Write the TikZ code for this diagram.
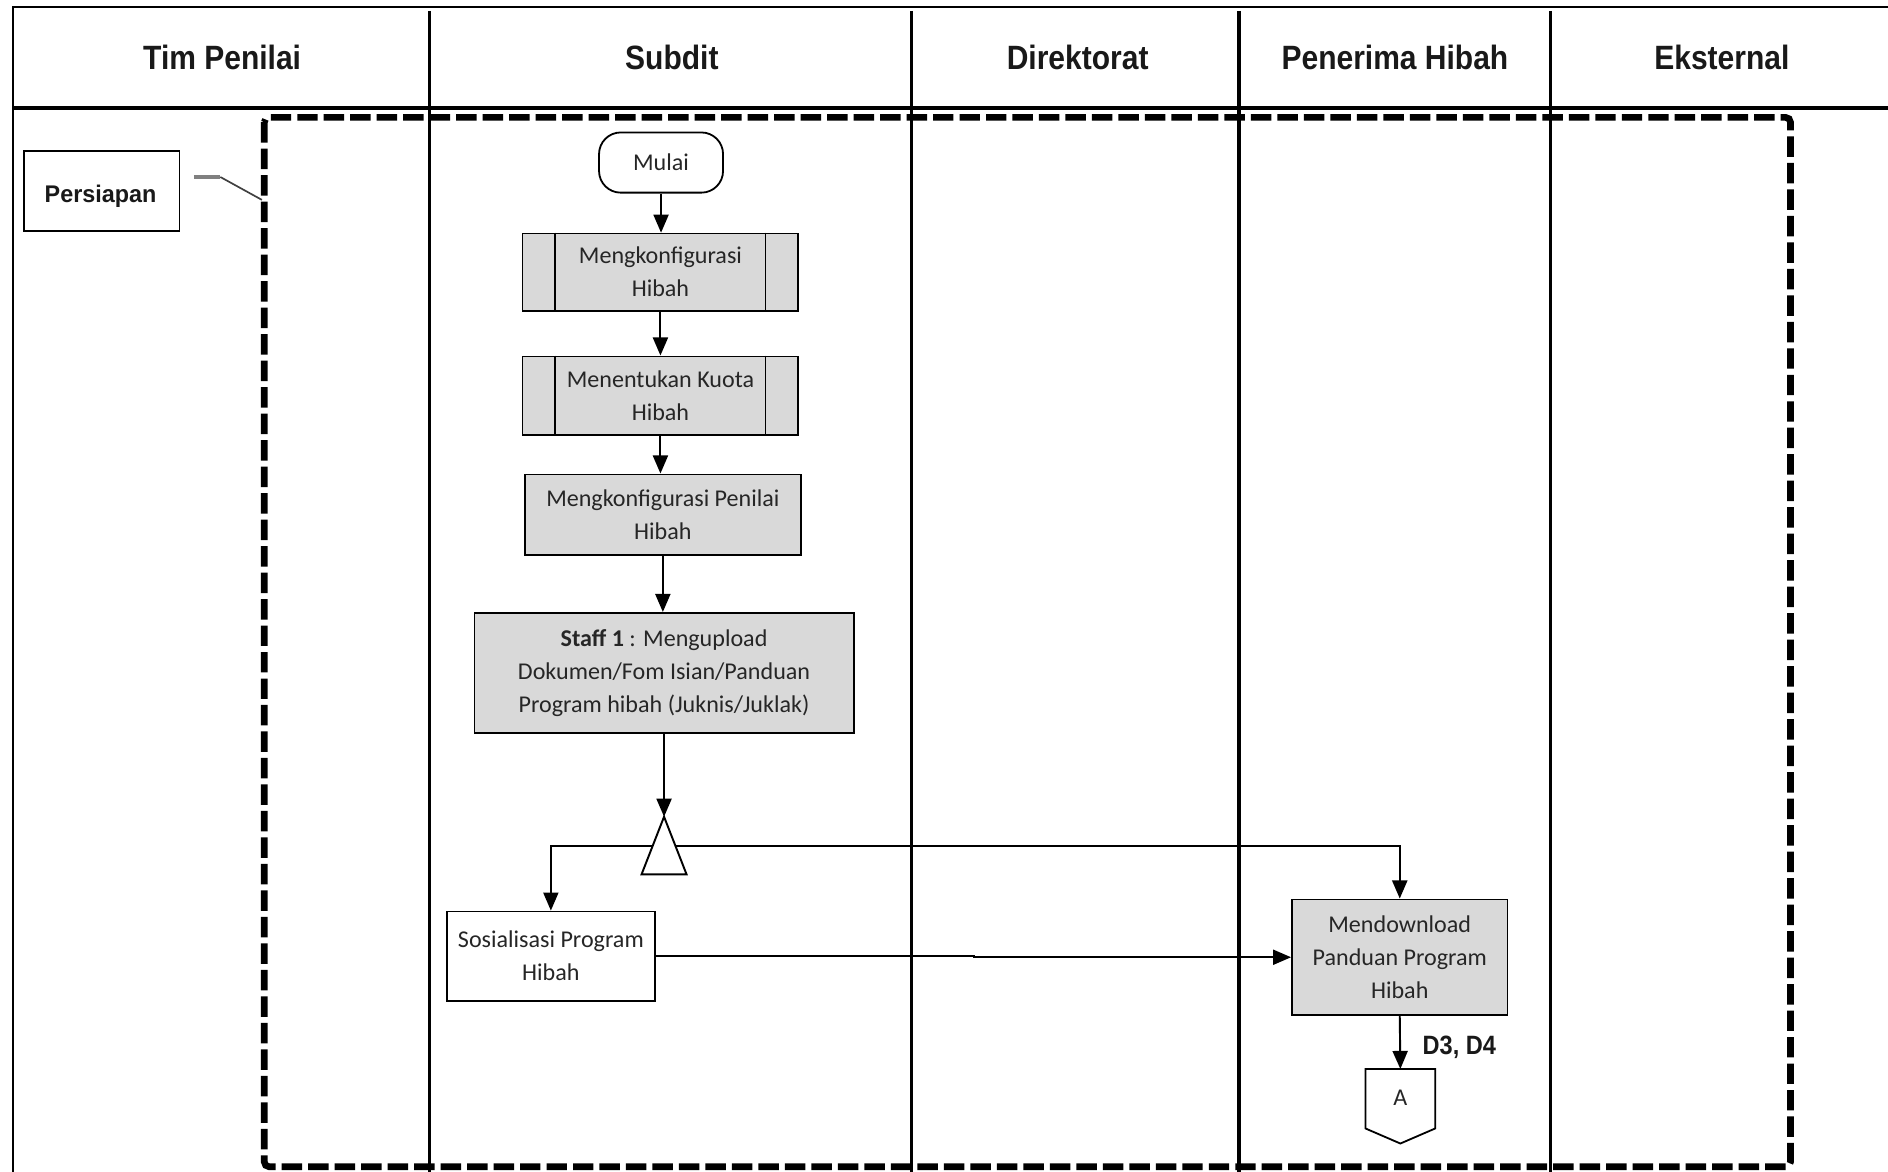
\documentclass[tikz,border=0pt]{standalone}
\usepackage{fontspec}
\setmainfont{Carlito}
\newfontfamily\headfont[FakeStretch=0.89]{Liberation Sans}
\newfontfamily\tagfont[FakeStretch=0.97]{Liberation Sans}
\usetikzlibrary{arrows.meta,calc}
\definecolor{procgray}{HTML}{D9D9D9}

\begin{document}
\begin{tikzpicture}[x=1pt,y=-1pt,
  boxtext/.style={font=\fontsize{20}{27.5}\selectfont, text=black!85, align=center, inner sep=0pt},
  proc/.style={boxtext, draw, line width=1.5pt, fill=procgray},
  plainbox/.style={boxtext, draw, line width=1.5pt, fill=white},
  headlabel/.style={font=\headfont\bfseries\fontsize{28}{30}\selectfont, anchor=base, text=black!90},
  arr/.style={line width=1.6pt, -{Triangle[length=15pt,width=12.5pt]}},
  lane/.style={line width=2.6pt},
  frameline/.style={line width=1.8pt},
  groupbox/.style={line width=5.5pt, dash pattern=on 17pt off 5pt, rounded corners=4pt}
]
\useasboundingbox (0,0) rectangle (1568,973);

% outer frame and header rule
\draw[frameline] (11,973) -- (11,6) -- (1568,6);
\draw[line width=3.3pt] (11,90) -- (1568,90);

% swimlane separators
\foreach \lx in {357,757,1029,1288}
  \draw[lane] (\lx,9) -- (\lx,973);

% lane titles
\node[headlabel] (hTim) at (184.5,57.6) {Tim Penilai};
\node[headlabel] (hSub) at (558,57.6) {Subdit};
\node[headlabel] (hDir) at (895,57.6) {Direktorat};
\node[headlabel] (hPen) at (1158.5,57.6) {Penerima Hibah};
\node[headlabel] (hEks) at (1430,57.6) {Eksternal};

% phase group
\draw[groupbox] (219.5,97.5) rectangle (1487,969);

% phase label with its callout
\node[draw, line width=1.5pt, minimum width=129pt, minimum height=66.5pt, inner sep=0pt] (persiapan) at (84.5,158.75) {};
\node[font=\tagfont\bfseries\fontsize{20}{22}\selectfont, text=black!90, anchor=base] (persiapantext) at (83.5,168) {Persiapan};
\coordinate (callA) at (161,147);
\coordinate (callB) at (183,147);
\coordinate (callC) at (217.5,166);
\draw[line width=2.6pt, black!50] (callA) -- (callB);
\draw[line width=1.4pt, black!75] (callB) -- (callC);

% start terminal
\node[boxtext, draw, line width=1.5pt, rounded corners=18pt, minimum width=103pt, minimum height=50pt] (mulai) at (549,135) {Mulai};

% predefined processes
\node[proc, minimum width=229pt, minimum height=64pt] (b1) at (548.5,226) {Mengkonfigurasi\\Hibah};
\draw[line width=1.5pt] ([xshift=28pt]b1.north west) -- ([xshift=28pt]b1.south west)
                        ([xshift=-28pt]b1.north east) -- ([xshift=-28pt]b1.south east);
\node[proc, minimum width=229pt, minimum height=65pt] (b2) at (548.5,328.5) {Menentukan Kuota\\Hibah};
\draw[line width=1.5pt] ([xshift=28pt]b2.north west) -- ([xshift=28pt]b2.south west)
                        ([xshift=-28pt]b2.north east) -- ([xshift=-28pt]b2.south east);

% processes
\node[proc, minimum width=229pt, minimum height=67pt] (b3) at (550.5,427.5) {Mengkonfigurasi Penilai\\Hibah};
\node[proc, minimum width=315pt, minimum height=100pt] (b4) at (551.5,559) {\textbf{Staff 1} : Mengupload\\Dokumen/Fom Isian/Panduan\\Program hibah (Juknis/Juklak)};

% extract / split symbol
\node[minimum width=37pt, minimum height=47.5pt, inner sep=0pt] (tri) at (551.5,702.25) {};
\draw[line width=1.6pt] (tri.north) -- (tri.south east) -- (tri.south west) -- cycle;

\node[plainbox, minimum width=173pt, minimum height=74pt] (sos) at (457.5,794) {Sosialisasi Program\\Hibah};
\node[proc, minimum width=179pt, minimum height=96pt] (mend) at (1162.5,795) {Mendownload\\Panduan Program\\Hibah};

% off-page connector
\node[minimum width=57.5pt, minimum height=61.5pt, inner sep=0pt] (conA) at (1163,918.75) {};
\draw[line width=1.5pt] (conA.north west) -- (conA.north east) -- ([yshift=12.5pt]conA.south east)
      -- (conA.south) -- ([yshift=12.5pt]conA.south west) -- cycle;
\node[boxtext] (conAtext) at ([yshift=6.75pt]conA.center) {A};

% flow
\draw[arr] (mulai.south) -- (mulai.south |- b1.north);
\draw[arr] (b1.south) -- (b1.south |- b2.north);
\draw[arr] (b2.south) -- (b2.south |- b3.north);
\draw[arr] (b3.south) -- (b3.south |- b4.north);
\draw[arr] (b4.south) -- (tri.north);
\draw[arr] ($(tri.north)!0.5!(tri.south west)$) -| (sos.north);
\draw[arr] ($(tri.north)!0.5!(tri.south east)$) -| (mend.north);
\draw[arr] (sos.east) -- ++(264,0) |- (mend.west);
\draw[arr] (mend.south) -- (conA.north);
\node[font=\headfont\bfseries\fontsize{22}{24}\selectfont, anchor=base west, text=black!90] (d34) at (1178,875.5) {D3, D4};
\end{tikzpicture}
\end{document}
